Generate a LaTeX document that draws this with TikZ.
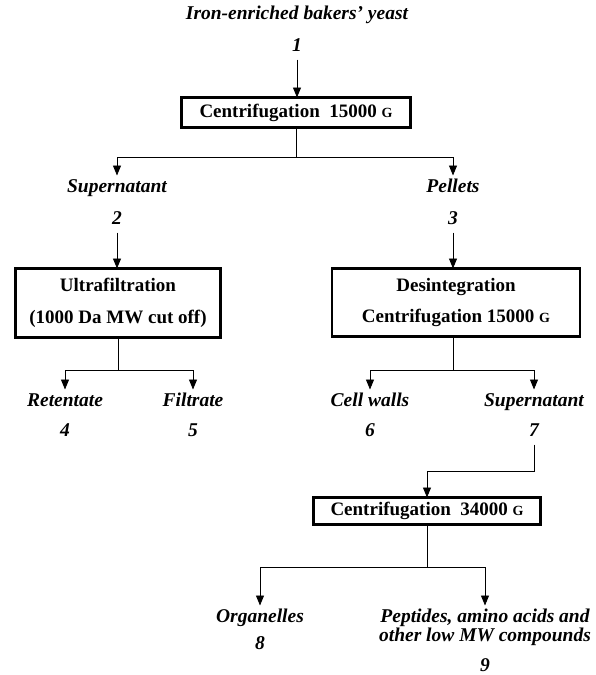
\documentclass[tikz,border=0pt]{standalone}
\usepackage{fontspec}
\setmainfont{Liberation Serif}
\usetikzlibrary{arrows.meta}
\tikzstyle{flowChart} = [x = 1pt, y = -1pt]
\tikzstyle{stepBox} = [draw, line width = 2.6pt, align = center, inner sep = 0pt, outer sep = 0pt, font = \bfseries\fontsize{19}{32}\selectfont]
\tikzstyle{productText} = [inner sep = 0pt, outer sep = 5pt, text height = 12pt, text depth = 3pt, font = \bfseries\itshape\fontsize{19.5}{20}\selectfont]
\tikzstyle{flowLine} = [line width = .9pt]
\tikzstyle{flowArrow} = [flowLine, -{Triangle[width = 8pt, length = 10pt]}]
\newcommand{\gForce}{{\fontsize{14}{14}\selectfont G}}
\newcommand{\product}[4]{\node [productText] (#1) at (#2, #3) {#4};}
\begin{document}
\begin{tikzpicture}[flowChart]
              \useasboundingbox (0, 0) rectangle (595, 675);
              \product{yeast}{297}{15}{Iron-enriched bakers' yeast}
              \product{n1}{297}{47}{1}
              \node [stepBox, minimum width = 229pt, minimum height = 30pt] (centA) at (296, 112.5) {Centrifugation\ \ 15000 \gForce};

              \product{sup2}{117}{188}{Supernatant}
              \product{n2}{117}{220}{2}
              \product{pel3}{453}{188}{Pellets}
              \product{n3}{453}{220}{3}

              \node [stepBox, minimum width = 205pt, minimum height = 69pt] (ultra) at (118, 303) {Ultrafiltration\\(1000 Da MW cut off)};
              \node [stepBox, minimum width = 248pt, minimum height = 68pt] (desint) at (456, 302.5) {Desintegration\\Centrifugation 15000 \gForce};

              \product{ret4}{65}{402}{Retentate}
              \product{n4}{65}{432}{4}
              \product{fil5}{193}{402}{Filtrate}
              \product{n5}{193}{432}{5}
              \product{cw6}{370}{402}{Cell walls}
              \product{n6}{370}{432}{6}
              \product{sup7}{534}{402}{Supernatant}
              \product{n7}{534}{432}{7}

              \node [stepBox, minimum width = 227pt, minimum height = 27pt] (centB) at (427, 511) {Centrifugation\ \ 34000 \gForce};

              \product{org8}{260}{618}{Organelles}
              \product{n8}{260}{645}{8}
              \product{pep9}{485}{618}{Peptides, amino acids and}
              \product{pep9b}{485}{637}{other low MW compounds}
              \product{n9}{485}{667}{9}

              \coordinate (splitA) at (296, 157);
              \coordinate (splitB) at (118, 370);
              \coordinate (splitC) at (456, 370);
              \coordinate (turn7) at (534, 471);
              \coordinate (splitD) at (427, 567);

              \draw [flowArrow] (n1.south) -- (n1.south |- centA.north);
              \draw [flowArrow] (centA.south) -- (splitA) -| (sup2.north);
              \draw [flowArrow] (splitA) -| (pel3.north);
              \draw [flowArrow] (n2.south) -- (n2.south |- ultra.north);
              \draw [flowArrow] (n3.south) -- (n3.south |- desint.north);
              \draw [flowArrow] (ultra.south) -- (splitB) -| (ret4.north);
              \draw [flowArrow] (splitB) -| (fil5.north);
              \draw [flowArrow] (n3.south |- desint.south) -- (n3.south |- splitC) -| (cw6.north);
              \draw [flowArrow] (n3.south |- splitC) -| (sup7.north);
              \draw [flowArrow] (n7.south) -- (turn7) -| (centB.north);
              \draw [flowArrow] (centB.south) -- (splitD) -| (org8.north);
              \draw [flowArrow] (splitD) -| (pep9.north);
            \end{tikzpicture}
\end{document}
